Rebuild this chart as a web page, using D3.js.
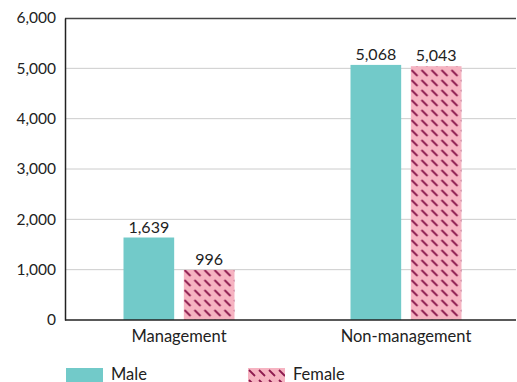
<!DOCTYPE html>
<html>
<head>
<meta charset="utf-8">
<script src="https://cdn.jsdelivr.net/npm/d3@7"></script>
<style>
  body { margin: 0; background: #fff; }
  svg { display: block; font-family: Lato, "Open Sans", sans-serif; }
</style>
</head>
<body>
<svg id="chart" width="517" height="382"></svg>
<script>
const categories = ["Management", "Non-management"];
const seriesNames = ["Male", "Female"];
const maleValues = [1639, 5068];
const femaleValues = [996, 5043];
const yTicks = [0, 1000, 2000, 3000, 4000, 5000, 6000];

const svg = d3.select("#chart");
const margin = { top: 18, right: 1, bottom: 62, left: 65 };
const W = 517, H = 382;
const iw = W - margin.left - margin.right;
const ih = H - margin.top - margin.bottom;

const defs = svg.append("defs");
const pat = defs.append("pattern")
  .attr("id", "hatch")
  .attr("patternUnits", "userSpaceOnUse")
  .attr("width", 10).attr("height", 10);
pat.append("rect").attr("width", 10).attr("height", 10).attr("fill", "#f6b3c1");
pat.append("line").attr("x1", 1).attr("y1", 2).attr("x2", 7).attr("y2", 8)
  .attr("stroke", "#8c1a4e").attr("stroke-width", 1.8);

const g = svg.append("g").attr("transform", `translate(${margin.left},${margin.top})`);

// category bands run slightly past the right edge of the frame
const x0 = d3.scaleBand().domain(categories).range([0.5, 454.5]);
const groupW = 111;
const x1 = d3.scaleBand().domain(seriesNames).range([0, groupW]).paddingInner(0.16);
const y = d3.scaleLinear().domain([0, 6000]).range([ih, 0]);

// gridlines
g.selectAll(".grid").data(yTicks.filter(t => t > 0 && t < 6000)).join("line")
  .attr("x1", 0).attr("x2", iw)
  .attr("y1", d => y(d)).attr("y2", d => y(d))
  .attr("stroke", "#cccccc").attr("stroke-width", 1);

// top border
g.append("line").attr("x1", 0).attr("x2", iw).attr("y1", 0.5).attr("y2", 0.5)
  .attr("stroke", "#444").attr("stroke-width", 1.5);

const data = categories.map((c, i) => ({ cat: c, vals: [
  { s: "Male", v: maleValues[i] }, { s: "Female", v: femaleValues[i] }] }));

const groups = g.selectAll(".grp").data(data).join("g")
  .attr("transform", d => `translate(${x0(d.cat) + x0.bandwidth() / 2 - groupW / 2},0)`);

groups.selectAll("rect").data(d => d.vals).join("rect")
  .attr("x", d => x1(d.s))
  .attr("width", x1.bandwidth())
  .attr("y", d => y(d.v))
  .attr("height", d => ih - y(d.v))
  .attr("fill", d => d.s === "Male" ? "#72cac9" : "url(#hatch)");

groups.selectAll("text").data(d => d.vals).join("text")
  .attr("x", d => x1(d.s) + x1.bandwidth() / 2)
  .attr("y", d => y(d.v) - 5)
  .attr("text-anchor", "middle")
  .attr("font-size", 16).attr("fill", "#222")
  .text(d => d3.format(",")(d.v));

// axes
const yAxis = g.append("g").call(d3.axisLeft(y).tickValues(yTicks).tickSize(0).tickFormat(d3.format(",")));
yAxis.select(".domain").attr("stroke", "#222").attr("stroke-width", 1.5);
yAxis.selectAll("text").attr("font-size", 15.5).attr("fill", "#222").attr("x", -9).attr("font-family", "Lato, 'Open Sans', sans-serif");

const xAxis = g.append("g").attr("transform", `translate(0,${ih})`)
  .call(d3.axisBottom(x0).tickSize(0));
xAxis.select(".domain").attr("stroke", "#222").attr("stroke-width", 1.5)
  .attr("d", `M0,0H${iw}`);
xAxis.selectAll("text").attr("font-size", 16.5).attr("fill", "#222").attr("dy", "1.15em").attr("font-family", "Lato, 'Open Sans', sans-serif");

// legend
const legend = svg.append("g").attr("transform", "translate(66,368)");
const items = [{ s: "Male", fill: "#72cac9", x: 0 }, { s: "Female", fill: "url(#hatch)", x: 182 }];
const li = legend.selectAll("g").data(items).join("g").attr("transform", d => `translate(${d.x},0)`);
li.append("rect").attr("width", 37).attr("height", 14).attr("fill", d => d.fill);
li.append("text").attr("x", 45).attr("y", 11.5).attr("font-size", 16.5).attr("fill", "#222").text(d => d.s);
</script>
</body>
</html>
